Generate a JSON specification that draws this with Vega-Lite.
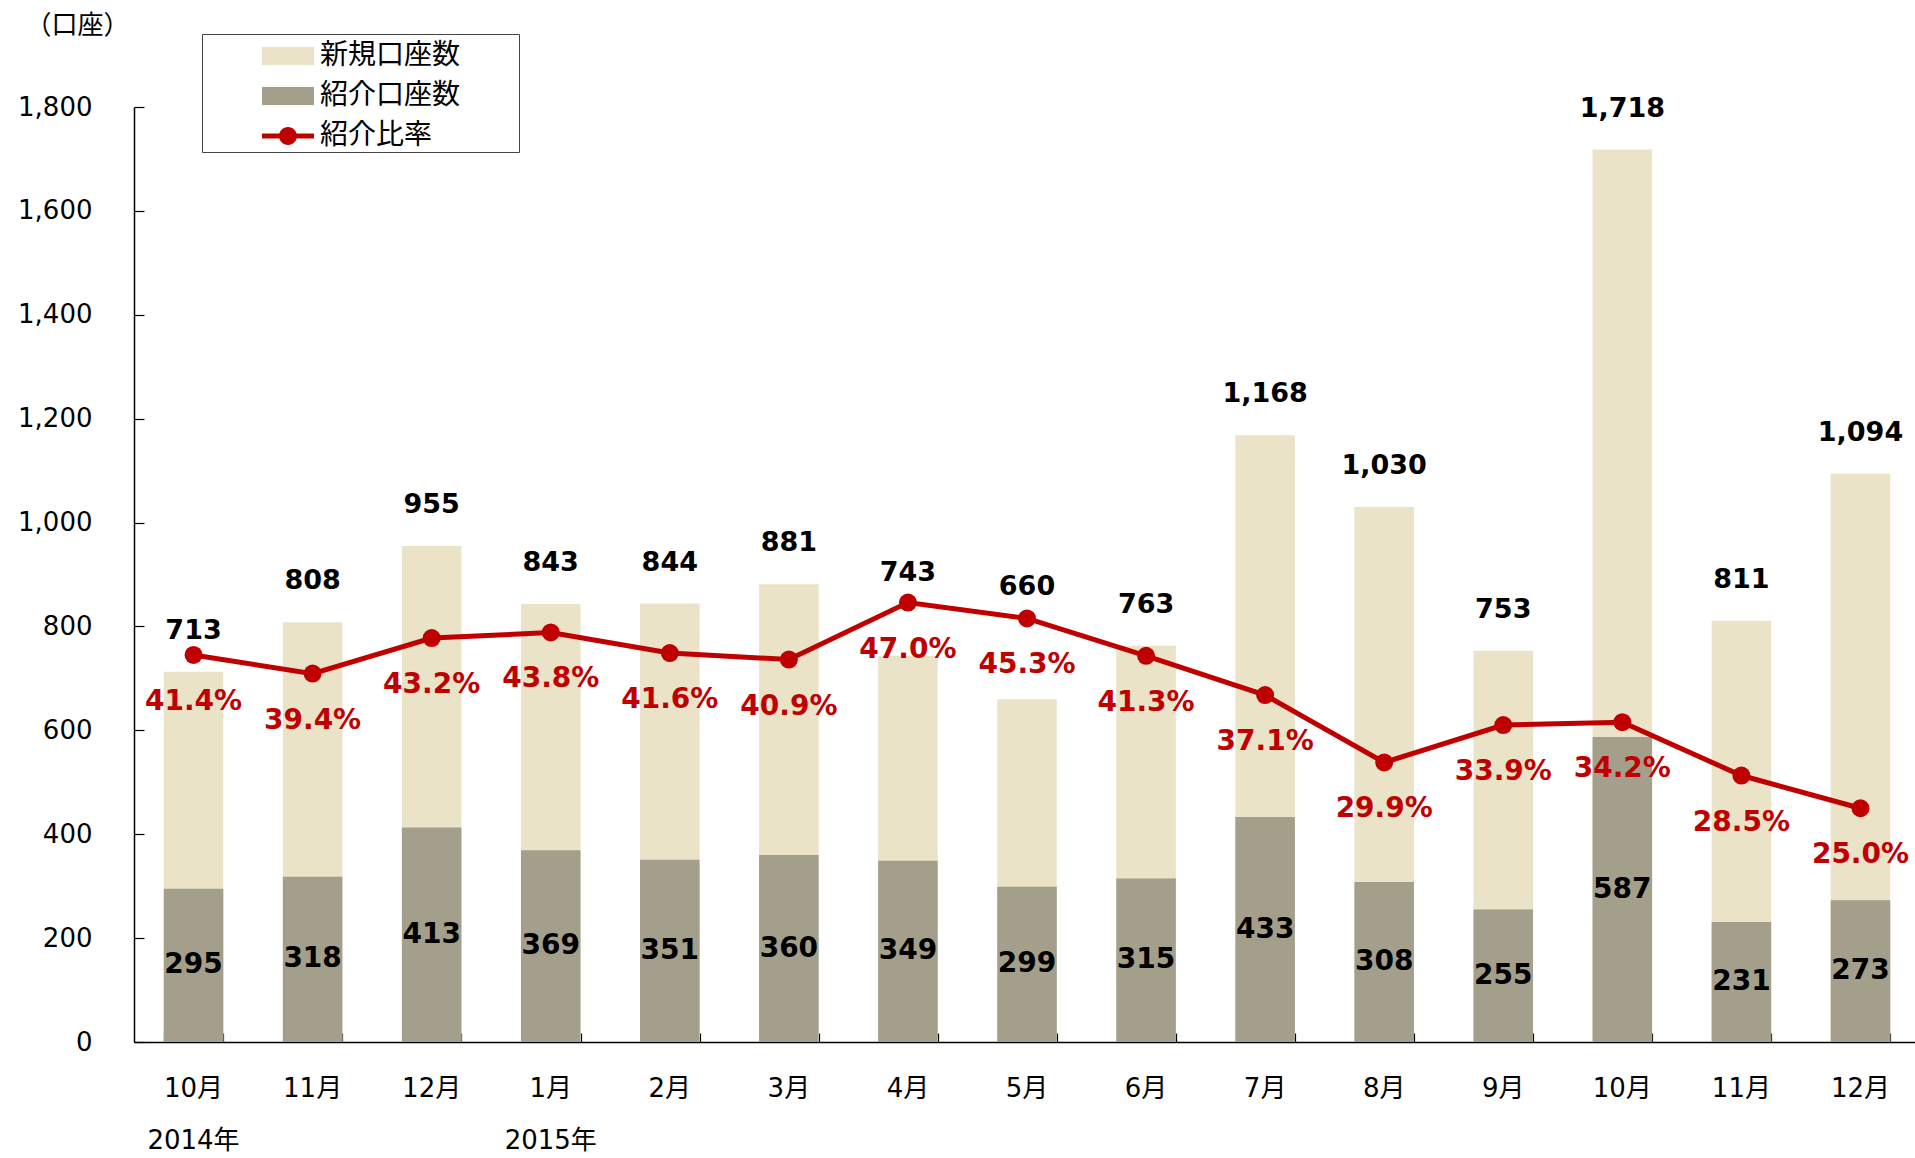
{
  "$schema": "https://vega.github.io/schema/vega-lite/v6.json",
  "width": 1786,
  "height": 935,
  "autosize": {"type": "none"},
  "padding": {"left": 134, "top": 107, "right": 0, "bottom": 116},
  "background": "white",
  "config": {
    "view": {"stroke": null}
  },
  "data": {
    "values": [
      {"m": "2014-10", "month": "10月", "year": "2014年", "total": 713, "referral": 295, "ratio": 0.414},
      {"m": "2014-11", "month": "11月", "year": "", "total": 808, "referral": 318, "ratio": 0.394},
      {"m": "2014-12", "month": "12月", "year": "", "total": 955, "referral": 413, "ratio": 0.432},
      {"m": "2015-01", "month": "1月", "year": "2015年", "total": 843, "referral": 369, "ratio": 0.438},
      {"m": "2015-02", "month": "2月", "year": "", "total": 844, "referral": 351, "ratio": 0.416},
      {"m": "2015-03", "month": "3月", "year": "", "total": 881, "referral": 360, "ratio": 0.409},
      {"m": "2015-04", "month": "4月", "year": "", "total": 743, "referral": 349, "ratio": 0.470},
      {"m": "2015-05", "month": "5月", "year": "", "total": 660, "referral": 299, "ratio": 0.453},
      {"m": "2015-06", "month": "6月", "year": "", "total": 763, "referral": 315, "ratio": 0.413},
      {"m": "2015-07", "month": "7月", "year": "", "total": 1168, "referral": 433, "ratio": 0.371},
      {"m": "2015-08", "month": "8月", "year": "", "total": 1030, "referral": 308, "ratio": 0.299},
      {"m": "2015-09", "month": "9月", "year": "", "total": 753, "referral": 255, "ratio": 0.339},
      {"m": "2015-10", "month": "10月", "year": "", "total": 1718, "referral": 587, "ratio": 0.342},
      {"m": "2015-11", "month": "11月", "year": "", "total": 811, "referral": 231, "ratio": 0.285},
      {"m": "2015-12", "month": "12月", "year": "", "total": 1094, "referral": 273, "ratio": 0.250}
    ]
  },
  "encoding": {
    "x": {
      "field": "m",
      "type": "ordinal",
      "sort": null,
      "scale": {"paddingInner": 0.5, "paddingOuter": 0.25},
      "axis": {
        "title": null,
        "labels": false,
        "tickBand": "extent",
        "tickSize": -9,
        "tickColor": "#000000",
        "tickWidth": 1.2,
        "domainColor": "#000000",
        "domainWidth": 1.5
      }
    }
  },
  "layer": [
    {
      "mark": {"type": "bar"},
      "encoding": {
        "y": {
          "field": "total",
          "type": "quantitative",
          "scale": {"domain": [0, 1800], "nice": false},
          "axis": {
            "title": "（口座）",
            "titleAngle": 0,
            "titleX": -57,
            "titleY": -82,
            "titleAlign": "center",
            "titleBaseline": "middle",
            "titleFont": "Noto Sans CJK JP",
            "titleFontWeight": "normal",
            "titleFontSize": 26,
            "titleColor": "#000000",
            "values": [0, 200, 400, 600, 800, 1000, 1200, 1400, 1600, 1800],
            "format": ",d",
            "grid": false,
            "labelFont": "DejaVu Sans",
            "labelFontSize": 26,
            "labelColor": "#000000",
            "labelPadding": 52,
            "tickSize": -10,
            "tickColor": "#000000",
            "tickWidth": 1.2,
            "domainColor": "#000000",
            "domainWidth": 1.5
          }
        },
        "color": {
          "datum": "新規口座数",
          "scale": {
            "domain": ["新規口座数", "紹介口座数", "紹介比率"],
            "range": ["#EAE3C8", "#A39F8A", "#C00000"]
          },
          "legend": {
            "title": null,
            "orient": "none",
            "legendX": 68,
            "legendY": -73,
            "direction": "vertical",
            "padding": 2,
            "strokeColor": "#444444",
            "fillColor": "#ffffff",
            "symbolSize": 1600,
            "symbolStrokeWidth": 0,
            "symbolOffset": 64,
            "labelOffset": 12,
            "labelLimit": 500,
            "rowPadding": 6,
            "labelFont": "Noto Sans CJK JP",
            "labelFontSize": 28,
            "labelColor": "#000000",
            "labelExpr": "datum.label + '\u3000\u3000\u200b'",
            "encode": {
              "symbols": {
                "update": {
                  "shape": {"signal": "datum.value === '紹介比率' ? 'M-1.3,-0.125H1.3V0.125H-1.3Z M-0.45,0A0.45,0.45 0 1,1 0.45,0A0.45,0.45 0 1,1 -0.45,0Z' : 'M-1.3,-0.45H1.3V0.45H-1.3Z'"},
                  "fill": {"signal": "datum.value === '新規口座数' ? '#EAE3C8' : datum.value === '紹介口座数' ? '#A39F8A' : '#C00000'"},
                  "fillOpacity": {"value": 1},
                  "strokeWidth": {"value": 0}
                }
              }
            }
          }
        }
      }
    },
    {
      "mark": {"type": "bar"},
      "encoding": {
        "y": {
          "field": "referral",
          "type": "quantitative",
          "scale": {"domain": [0, 1800], "nice": false},
          "axis": null
        },
        "color": {"datum": "紹介口座数"}
      }
    },
    {
      "transform": [{"filter": "datum.m != '2015-04' && datum.m != '2015-05'"}],
      "mark": {"type": "text", "font": "DejaVu Sans", "fontWeight": "bold", "fontSize": 27, "color": "#000000", "baseline": "middle", "dy": -41},
      "encoding": {
        "y": {
          "field": "total",
          "type": "quantitative",
          "scale": {"domain": [0, 1800], "nice": false},
          "axis": null
        },
        "text": {"field": "total", "type": "quantitative", "format": ",d"}
      }
    },
    {
      "transform": [{"filter": "datum.m == '2015-04'"}],
      "mark": {"type": "text", "font": "DejaVu Sans", "fontWeight": "bold", "fontSize": 27, "color": "#000000", "baseline": "middle", "dy": -83},
      "encoding": {
        "y": {
          "field": "total",
          "type": "quantitative",
          "scale": {"domain": [0, 1800], "nice": false},
          "axis": null
        },
        "text": {"field": "total", "type": "quantitative", "format": ",d"}
      }
    },
    {
      "transform": [{"filter": "datum.m == '2015-05'"}],
      "mark": {"type": "text", "font": "DejaVu Sans", "fontWeight": "bold", "fontSize": 27, "color": "#000000", "baseline": "middle", "dy": -112},
      "encoding": {
        "y": {
          "field": "total",
          "type": "quantitative",
          "scale": {"domain": [0, 1800], "nice": false},
          "axis": null
        },
        "text": {"field": "total", "type": "quantitative", "format": ",d"}
      }
    },
    {
      "mark": {"type": "text", "font": "DejaVu Sans", "fontWeight": "bold", "fontSize": 28, "color": "#000000", "baseline": "middle"},
      "encoding": {
        "y": {
          "field": "referral",
          "type": "quantitative",
          "scale": {"domain": [0, 3600], "nice": false},
          "axis": null
        },
        "text": {"field": "referral", "type": "quantitative", "format": "d"}
      }
    },
    {
      "mark": {"type": "line", "color": "#C00000", "strokeWidth": 5, "point": {"filled": true, "size": 324, "color": "#C00000"}},
      "encoding": {
        "y": {
          "field": "ratio",
          "type": "quantitative",
          "scale": {"domain": [0, 1], "nice": false},
          "axis": null
        },
        "color": {"datum": "紹介比率"}
      }
    },
    {
      "mark": {"type": "text", "font": "DejaVu Sans", "fontWeight": "bold", "fontSize": 28, "color": "#C00000", "baseline": "middle", "dy": 47},
      "encoding": {
        "y": {
          "field": "ratio",
          "type": "quantitative",
          "scale": {"domain": [0, 1], "nice": false},
          "axis": null
        },
        "text": {"field": "ratio", "type": "quantitative", "format": ".1%"}
      }
    },
    {
      "mark": {"type": "text", "font": "DejaVu Sans, Noto Sans CJK JP", "fontSize": 26, "color": "#000000", "baseline": "middle", "dy": 47},
      "encoding": {
        "y": {
          "datum": 0,
          "type": "quantitative",
          "scale": {"domain": [0, 1800], "nice": false},
          "axis": null
        },
        "text": {"field": "month", "type": "nominal"}
      }
    },
    {
      "mark": {"type": "text", "font": "DejaVu Sans, Noto Sans CJK JP", "fontSize": 26, "color": "#000000", "baseline": "middle", "dy": 99},
      "encoding": {
        "y": {
          "datum": 0,
          "type": "quantitative",
          "scale": {"domain": [0, 1800], "nice": false},
          "axis": null
        },
        "text": {"field": "year", "type": "nominal"}
      }
    }
  ],
  "resolve": {"scale": {"y": "independent"}}
}
